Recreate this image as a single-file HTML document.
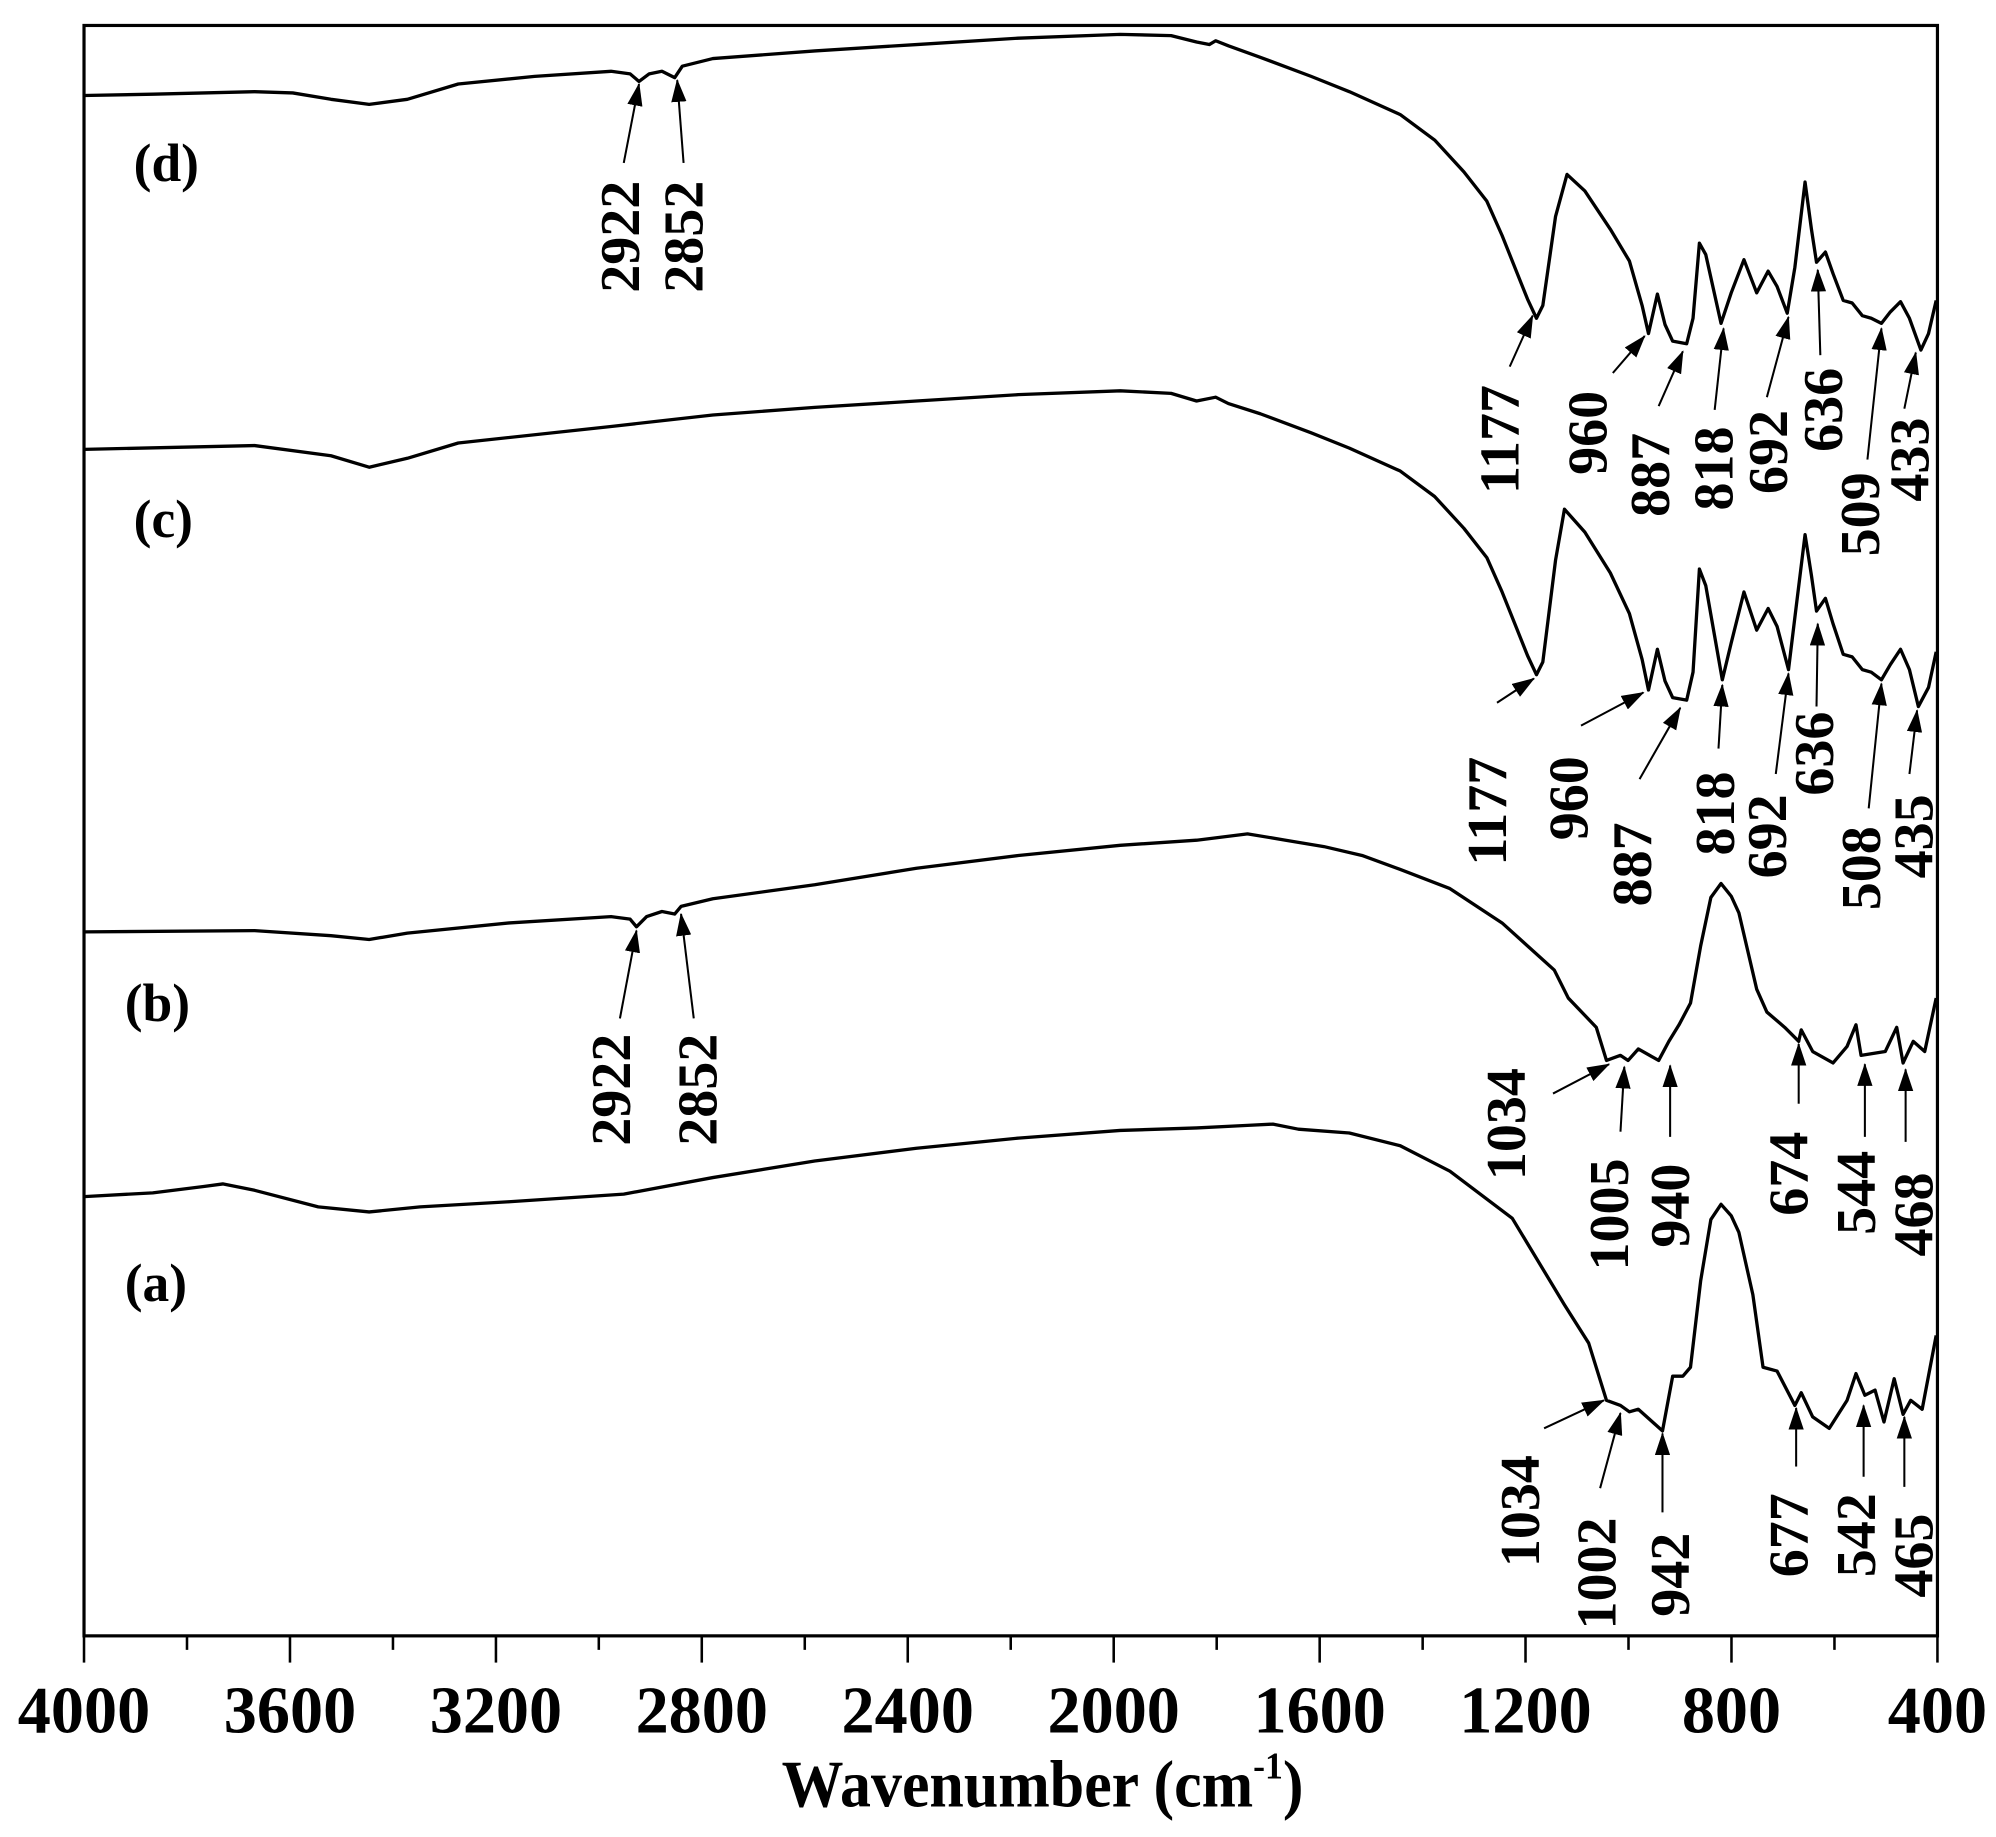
<!DOCTYPE html>
<html><head><meta charset="utf-8"><style>html,body{margin:0;padding:0;background:#fff}svg{display:block}</style></head>
<body>
<svg width="1996" height="1837" viewBox="0 0 1568 1443" preserveAspectRatio="none" xmlns="http://www.w3.org/2000/svg" font-family="'Liberation Serif', serif" font-weight="bold">
<defs>
<marker id="ah" markerWidth="18" markerHeight="12" refX="17" refY="6" orient="auto" markerUnits="userSpaceOnUse">
<path d="M0,0 L18,6 L0,12 Z" fill="#000"/>
</marker>
</defs>
<rect x="66" y="20" width="1456" height="1265" fill="none" stroke="#000" stroke-width="2.5"/>
<g stroke="#000" stroke-width="2">
<line x1="66" y1="1285" x2="66" y2="1306"/><line x1="146.9" y1="1285" x2="146.9" y2="1296"/>
<line x1="227.8" y1="1285" x2="227.8" y2="1306"/><line x1="308.7" y1="1285" x2="308.7" y2="1296"/>
<line x1="389.6" y1="1285" x2="389.6" y2="1306"/><line x1="470.4" y1="1285" x2="470.4" y2="1296"/>
<line x1="551.3" y1="1285" x2="551.3" y2="1306"/><line x1="632.2" y1="1285" x2="632.2" y2="1296"/>
<line x1="713.1" y1="1285" x2="713.1" y2="1306"/><line x1="794" y1="1285" x2="794" y2="1296"/>
<line x1="874.9" y1="1285" x2="874.9" y2="1306"/><line x1="955.8" y1="1285" x2="955.8" y2="1296"/>
<line x1="1036.7" y1="1285" x2="1036.7" y2="1306"/><line x1="1117.6" y1="1285" x2="1117.6" y2="1296"/>
<line x1="1198.4" y1="1285" x2="1198.4" y2="1306"/><line x1="1279.3" y1="1285" x2="1279.3" y2="1296"/>
<line x1="1360.2" y1="1285" x2="1360.2" y2="1306"/><line x1="1441.1" y1="1285" x2="1441.1" y2="1296"/>
<line x1="1522" y1="1285" x2="1522" y2="1306"/>
</g>
<g font-size="52" text-anchor="middle">
<text x="66" y="1361" textLength="104" lengthAdjust="spacingAndGlyphs">4000</text>
<text x="227.8" y="1361" textLength="104" lengthAdjust="spacingAndGlyphs">3600</text>
<text x="389.6" y="1361" textLength="104" lengthAdjust="spacingAndGlyphs">3200</text>
<text x="551.3" y="1361" textLength="104" lengthAdjust="spacingAndGlyphs">2800</text>
<text x="713.1" y="1361" textLength="104" lengthAdjust="spacingAndGlyphs">2400</text>
<text x="874.9" y="1361" textLength="104" lengthAdjust="spacingAndGlyphs">2000</text>
<text x="1036.7" y="1361" textLength="104" lengthAdjust="spacingAndGlyphs">1600</text>
<text x="1198.4" y="1361" textLength="104" lengthAdjust="spacingAndGlyphs">1200</text>
<text x="1360.2" y="1361" textLength="78" lengthAdjust="spacingAndGlyphs">800</text>
<text x="1522" y="1361" textLength="78" lengthAdjust="spacingAndGlyphs">400</text>
</g>
<text x="614" y="1419" font-size="52" textLength="410" lengthAdjust="spacingAndGlyphs">Wavenumber (cm<tspan dy="-22" font-size="30">-1</tspan><tspan dy="22">)</tspan></text>
<g font-size="42">
<text x="105" y="142">(d)</text>
<text x="105" y="422">(c)</text>
<text x="98" y="802">(b)</text>
<text x="98" y="1022">(a)</text>
</g>
<g fill="none" stroke="#000" stroke-width="2.6" stroke-linejoin="round">
<polyline points="66,75 120,74 200,72 230,73 260,78 290,82 320,78 360,66 420,60 480,56 495,58 502,64 510,58 520,56 530,61 536,52 560,46 640,40 720,35 800,30 880,27 920,28 940,33 950,35 955,32 965,36 990,45 1030,60 1060,72 1100,90 1127,110 1150,135 1168,158 1180,185 1192,215 1200,235 1207,250 1212,240 1222,170 1231,137 1245,150 1265,180 1280,205 1290,240 1295,262 1302,231 1308,255 1314,268 1325,270 1330,250 1335,191 1340,200 1352,254 1360,230 1370,204 1380,230 1389,213 1396,225 1404,246 1410,210 1418,143 1423,180 1427,206 1434,198 1440,215 1448,236 1455,238 1463,248 1470,250 1478,254 1485,245 1493,237 1500,250 1509,275 1515,262 1521,236"/>
<polyline points="66,353 200,350 260,358 290,367 320,360 360,348 480,335 560,326 640,320 720,315 800,310 880,307 920,309 940,315 955,312 965,317 990,325 1030,340 1060,352 1100,370 1127,390 1150,415 1168,438 1180,465 1192,495 1200,515 1207,530 1212,520 1222,440 1229,400 1245,418 1265,450 1280,482 1290,518 1295,542 1302,510 1308,535 1314,548 1325,550 1330,528 1335,447 1340,460 1353,534 1360,505 1370,465 1380,495 1389,478 1396,492 1405,526 1410,485 1418,420 1423,452 1427,480 1434,470 1440,490 1448,514 1455,516 1463,526 1470,528 1478,534 1485,522 1493,510 1500,526 1507,555 1515,540 1521,512"/>
<polyline points="66,732 200,731 260,735 290,738 320,733 400,725 480,720 495,722 500,728 508,720 520,716 530,718 535,712 560,706 640,695 720,682 800,672 880,664 940,660 980,655 1010,660 1040,665 1070,672 1100,683 1139,698 1180,725 1221,762 1232,784 1254,807 1262,833 1273,829 1279,833 1287,824 1303,833 1311,818 1319,805 1328,788 1336,743 1344,705 1352,694 1360,704 1366,717 1380,777 1388,795 1402,807 1413,818 1415,809 1424,826 1440,835 1451,822 1458,805 1462,829 1481,826 1490,807 1495,835 1503,818 1512,826 1521,784"/>
<polyline points="66,940 120,937 160,932 175,930 200,935 250,948 290,952 330,948 400,944 490,938 560,925 640,912 720,902 800,894 880,888 940,886 980,884 1000,883 1020,887 1060,890 1100,900 1139,920 1188,957 1229,1025 1248,1055 1262,1100 1273,1104 1280,1109 1287,1107 1306,1124 1314,1081 1322,1081 1328,1074 1336,1006 1344,958 1352,946 1360,955 1366,968 1377,1017 1385,1074 1396,1077 1410,1104 1415,1094 1424,1113 1437,1122 1451,1100 1458,1079 1465,1096 1473,1092 1480,1117 1488,1083 1495,1111 1501,1100 1510,1107 1521,1049"/>
</g>
<g stroke="#000" stroke-width="1.6" marker-end="url(#ah)">
<line x1="490" y1="128" x2="502" y2="66"/><line x1="537" y1="128" x2="532" y2="63"/>
<line x1="1186" y1="288" x2="1204" y2="248"/><line x1="1267" y1="293" x2="1292" y2="264"/>
<line x1="1303" y1="319" x2="1322" y2="276"/><line x1="1347" y1="322" x2="1354" y2="258"/>
<line x1="1388" y1="312" x2="1405" y2="249"/><line x1="1430" y1="279" x2="1428" y2="212"/>
<line x1="1467" y1="361" x2="1478" y2="258"/><line x1="1496" y1="321" x2="1505" y2="277"/>
<line x1="1176" y1="552" x2="1205" y2="533"/><line x1="1242" y1="570" x2="1291" y2="544"/>
<line x1="1288" y1="612" x2="1320" y2="556"/><line x1="1350" y1="588" x2="1353" y2="538"/>
<line x1="1395" y1="608" x2="1405" y2="529"/><line x1="1427" y1="555" x2="1428" y2="490"/>
<line x1="1468" y1="635" x2="1478" y2="537"/><line x1="1500" y1="608" x2="1506" y2="558"/>
<line x1="487" y1="800" x2="500" y2="731"/><line x1="545" y1="800" x2="535" y2="718"/>
<line x1="1220" y1="859" x2="1264" y2="836"/><line x1="1273" y1="889" x2="1276" y2="838"/>
<line x1="1312" y1="893" x2="1312" y2="837"/><line x1="1413" y1="867" x2="1413" y2="820"/>
<line x1="1465" y1="893" x2="1465" y2="836"/><line x1="1497" y1="897" x2="1497" y2="840"/>
<line x1="1213" y1="1122" x2="1260" y2="1100"/><line x1="1257" y1="1169" x2="1273" y2="1110"/>
<line x1="1306" y1="1188" x2="1306" y2="1126"/><line x1="1411" y1="1152" x2="1411" y2="1106"/>
<line x1="1464" y1="1160" x2="1464" y2="1104"/><line x1="1496" y1="1168" x2="1496" y2="1113"/>
</g>
<g font-size="44">
<text transform="translate(502,230) rotate(-90)">2922</text>
<text transform="translate(552,230) rotate(-90)">2852</text>
<text transform="translate(1193,388) rotate(-90)">1177</text>
<text transform="translate(1262,373) rotate(-90)">960</text>
<text transform="translate(1311,406) rotate(-90)">887</text>
<text transform="translate(1361,401) rotate(-90)">818</text>
<text transform="translate(1404,388) rotate(-90)">692</text>
<text transform="translate(1447,355) rotate(-90)">636</text>
<text transform="translate(1476,437) rotate(-90)">509</text>
<text transform="translate(1515,394) rotate(-90)">433</text>
<text transform="translate(1183,680) rotate(-90)">1177</text>
<text transform="translate(1247,660) rotate(-90)">960</text>
<text transform="translate(1297,712) rotate(-90)">887</text>
<text transform="translate(1362,672) rotate(-90)">818</text>
<text transform="translate(1403,690) rotate(-90)">692</text>
<text transform="translate(1440,625) rotate(-90)">636</text>
<text transform="translate(1477,715) rotate(-90)">508</text>
<text transform="translate(1518,690) rotate(-90)">435</text>
<text transform="translate(495,900) rotate(-90)">2922</text>
<text transform="translate(563,900) rotate(-90)">2852</text>
<text transform="translate(1198,927) rotate(-90)">1034</text>
<text transform="translate(1279,998) rotate(-90)">1005</text>
<text transform="translate(1327,980) rotate(-90)">940</text>
<text transform="translate(1420,955) rotate(-90)">674</text>
<text transform="translate(1473,970) rotate(-90)">544</text>
<text transform="translate(1518,987) rotate(-90)">468</text>
<text transform="translate(1209,1231) rotate(-90)">1034</text>
<text transform="translate(1269,1280) rotate(-90)">1002</text>
<text transform="translate(1327,1270) rotate(-90)">942</text>
<text transform="translate(1420,1239) rotate(-90)">677</text>
<text transform="translate(1473,1239) rotate(-90)">542</text>
<text transform="translate(1518,1255) rotate(-90)">465</text>
</g>
</svg>
</body></html>
